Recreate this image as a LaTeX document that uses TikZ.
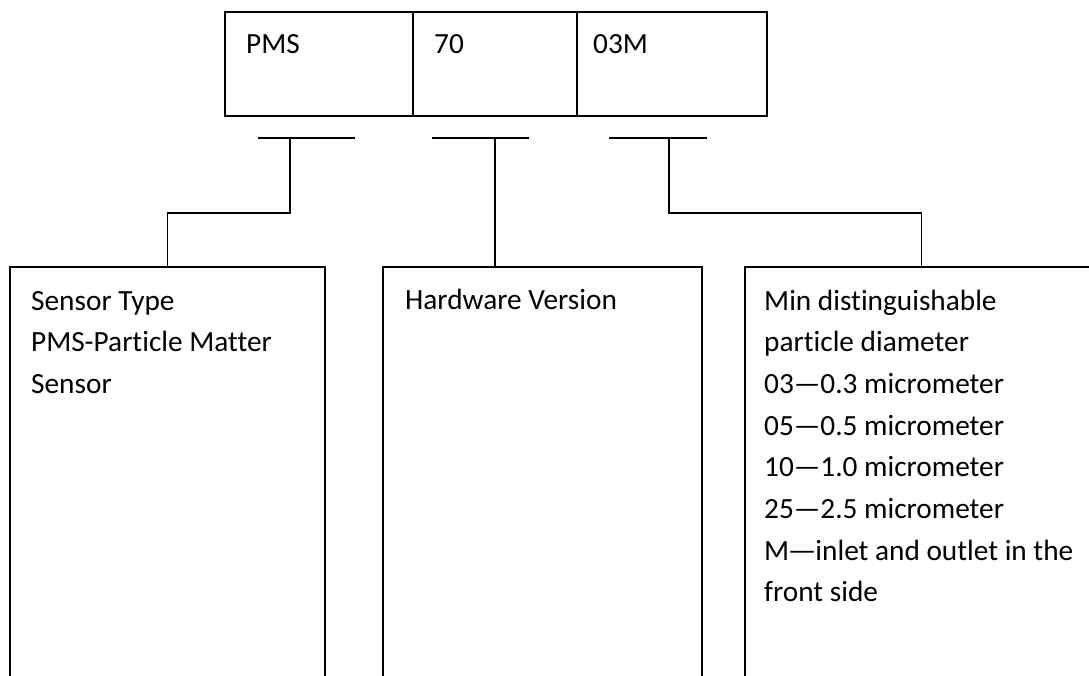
\documentclass[tikz,border=0pt]{standalone}
\usepackage{fontspec}
\setmainfont{Carlito}[Ligatures={NoCommon}]
\newfontfamily\cjk{Noto Sans CJK SC}
\begin{document}
\begin{tikzpicture}[x=1pt,y=-1pt,
  cell/.style={draw, line width=1.6pt, rectangle, inner sep=0pt, outer sep=0pt, anchor=north west},
  conn/.style={line width=1.6pt},
  txt/.style={anchor=base west, inner sep=0pt, align=left, font=\fontsize{29.3}{41.7}\selectfont}]
\useasboundingbox (0,0) rectangle (1089,675);
\clip (0,0) rectangle (1089,675);
\fill[white] (0,0) rectangle (1089,675);
% top code cells
\node[cell, minimum width=188pt, minimum height=104pt] (c1) at (225,12) {};
\node[cell, minimum width=164pt, minimum height=104pt] (c2) at (413,12) {};
\node[cell, minimum width=190pt, minimum height=104pt] (c3) at (577,12) {};
\node[txt] (l1) at (246,53) {PMS};
\node[txt] (l2) at (434,53) {70};
\node[txt] (l3) at (593,53) {03M};
% T bars
\coordinate (a1) at (258,138); \coordinate (a2) at (355,138); \coordinate (s1) at (290,138);
\coordinate (a3) at (432,138); \coordinate (a4) at (529,138); \coordinate (s2) at (495,138);
\coordinate (a5) at (609,138); \coordinate (a6) at (707,138); \coordinate (s3) at (669,138);
\coordinate (e1) at (290,213); \coordinate (e3) at (669,213);
% description boxes
\node[cell, minimum width=315pt, minimum height=500pt] (b1) at (10,267) {};
\node[cell, minimum width=319pt, minimum height=500pt] (b2) at (383,267) {};
\node[cell, minimum width=353pt, minimum height=500pt] (b3) at (745,267) {};
% base anchor of a multi-line node is its last line
\node[txt] (d1) at (31,393.4) {Sensor Type\\PMS-Particle Matter\\Sensor};
\node[txt] (d2) at (405,309) {Hardware Version};
\node[txt] (d3) at (764,601.9) {Min distinguishable\\particle diameter\\03—0.3 micrometer\\05—0.5 micrometer\\10—1.0 micrometer\\25—2.5 micrometer\\M{\cjk —}inlet and outlet in the\\front side};
% connectors
\draw[conn] (a1) -- (a2);
\draw[conn] (a3) -- (a4);
\draw[conn] (a5) -- (a6);
\draw[conn] (s1) -- (e1) -| (b1.north);
\draw[conn] (s2) -- (s2 |- b2.north);
\draw[conn] (s3) -- (e3) -| (b3.north);
\end{tikzpicture}
\end{document}
